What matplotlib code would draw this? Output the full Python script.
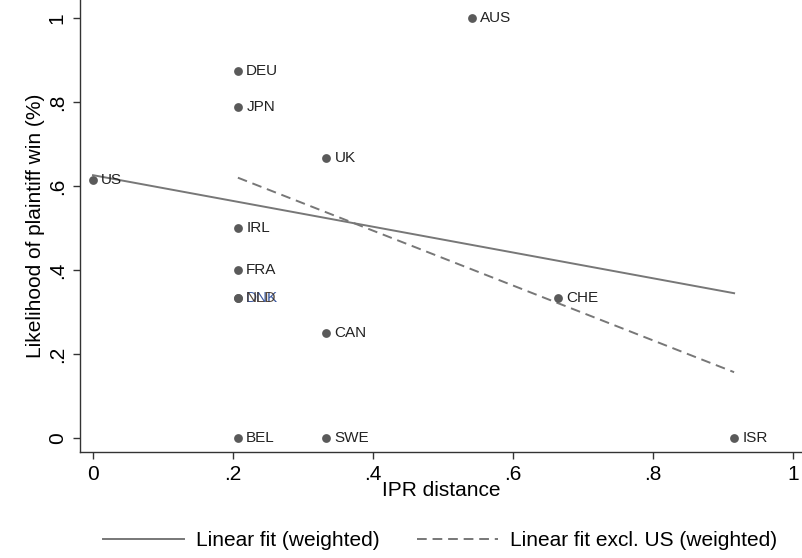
import matplotlib
matplotlib.use("Agg")
import matplotlib.pyplot as plt

countries = ["US", "AUS", "DEU", "JPN", "UK", "IRL", "FRA", "DNK", "NLD", "CHE", "CAN", "BEL", "SWE", "ISR"]
ipr_distance = [0.0, 0.541, 0.207, 0.207, 0.333, 0.207, 0.207, 0.207, 0.207, 0.664, 0.333, 0.207, 0.333, 0.916]
plaintiff_win = [0.615, 1.0, 0.875, 0.789, 0.667, 0.5, 0.4, 0.333, 0.333, 0.333, 0.25, 0.0, 0.0, 0.0]

fit_all_x = [0.0, 0.916]
fit_all_y = [0.626, 0.345]
fit_exus_x = [0.207, 0.916]
fit_exus_y = [0.620, 0.157]

xticks = [0, 0.2, 0.4, 0.6, 0.8, 1.0]
xticklabels = ["0", ".2", ".4", ".6", ".8", "1"]
yticks = [0, 0.2, 0.4, 0.6, 0.8, 1.0]
yticklabels = ["0", ".2", ".4", ".6", ".8", "1"]

plt.rcParams['font.family'] = ['Liberation Sans', 'DejaVu Sans']

fig = plt.figure(figsize=(8.02, 5.58), dpi=100)
ax = fig.add_axes([80/802, 1 - 452/558, 722/802, 452/558])

ax.scatter(ipr_distance, plaintiff_win, s=40, color="#5a5a5a", zorder=3, linewidths=0)
label_colors = {"DNK": "#1a3d8f", "NLD": "#3a2a1a"}
for c, xv, yv in zip(countries, ipr_distance, plaintiff_win):
    ax.annotate(c, (xv, yv), xytext=(6, 0), textcoords="offset points",
                va="center", ha="left", fontsize=11,
                color=label_colors.get(c, "#222222"), alpha=0.85 if c in label_colors else 1.0)

l1, = ax.plot(fit_all_x, fit_all_y, color="#777777", lw=1.4, label="Linear fit (weighted)")
l2, = ax.plot(fit_exus_x, fit_exus_y, color="#777777", lw=1.4, ls=(0, (5, 3)),
              label="Linear fit excl. US (weighted)")

ax.set_xlim(-0.0186, 1.013)
ax.set_ylim(-0.033, 1.043)
ax.set_xticks(xticks)
ax.set_xticklabels(xticklabels)
ax.set_yticks(yticks)
ax.set_yticklabels(yticklabels, rotation=90, va="center")
ax.tick_params(axis="both", labelsize=15, length=5, width=1, color="#333333")
ax.tick_params(axis="x", pad=4.5)
ax.tick_params(axis="y", pad=4.5)
for s in ["top", "right"]:
    ax.spines[s].set_visible(False)
for s in ["left", "bottom"]:
    ax.spines[s].set_color("#333333")
    ax.spines[s].set_linewidth(1)

ax.set_xlabel("IPR distance", fontsize=15, labelpad=-2)
ax.set_ylabel("Likelihood of plaintiff win (%)", fontsize=15, labelpad=2)

fig.legend(handles=[l1, l2], loc="center", bbox_to_anchor=(0.549, 1 - 541/558),
           ncol=2, frameon=False, fontsize=15, handlelength=3.85, handletextpad=0.6,
           columnspacing=1.8)

fig.savefig("out.png", dpi=100, facecolor="white")
